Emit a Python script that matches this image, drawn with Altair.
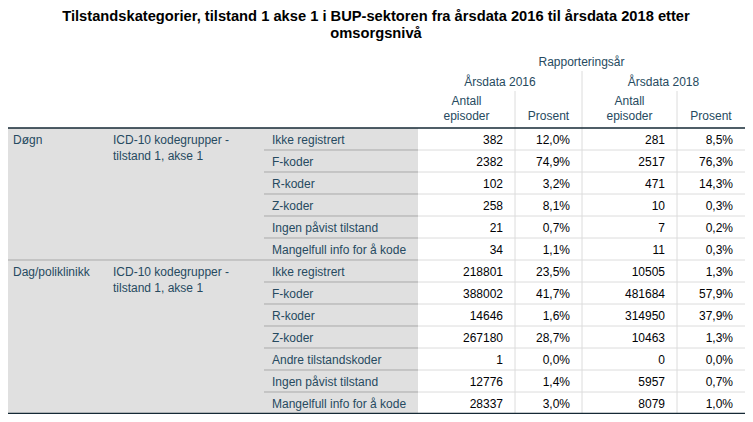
import altair as alt
import pandas as pd

# ---------------- data ----------------
title_lines = [
    "Tilstandskategorier, tilstand 1 akse 1 i BUP-sektoren fra årsdata 2016 til årsdata 2018 etter",
    "omsorgsnivå",
]
spanner = "Rapporteringsår"
years = ["Årsdata 2016", "Årsdata 2018"]
antall_label = ["Antall", "episoder"]
prosent_label = "Prosent"
groups = ["Døgn", "Dag/poliklinikk"]
variable_label = ["ICD-10 kodegrupper -", "tilstand 1, akse 1"]

cats_dogn = ["Ikke registrert", "F-koder", "R-koder", "Z-koder",
             "Ingen påvist tilstand", "Mangelfull info for å kode"]
cats_dag = ["Ikke registrert", "F-koder", "R-koder", "Z-koder",
            "Andre tilstandskoder", "Ingen påvist tilstand", "Mangelfull info for å kode"]

antall_2016_dogn = [382, 2382, 102, 258, 21, 34]
prosent_2016_dogn = [12.0, 74.9, 3.2, 8.1, 0.7, 1.1]
antall_2018_dogn = [281, 2517, 471, 10, 7, 11]
prosent_2018_dogn = [8.5, 76.3, 14.3, 0.3, 0.2, 0.3]

antall_2016_dag = [218801, 388002, 14646, 267180, 1, 12776, 28337]
prosent_2016_dag = [23.5, 41.7, 1.6, 28.7, 0.0, 1.4, 3.0]
antall_2018_dag = [10505, 481684, 314950, 10463, 0, 5957, 8079]
prosent_2018_dag = [1.3, 57.9, 37.9, 1.3, 0.0, 0.7, 1.0]

# ---------------- layout (page pixel units) ----------------
W, H = 737, 406
OFF = 8
LEFT, RIGHT = 8, 745
GRAY_R = 418
COLS = [418, 515, 582, 677, 745]
HEAD_BOTTOM = 128
ROW_H = 22
LAB_C1, LAB_C2, LAB_C3, SEP_X = 13, 113, 272, 264
PAD_R = 12

LABEL_COL = "#264a60"
NUM_COL = "#010205"
FONT = "Liberation Sans"

xs = alt.Scale(domain=[OFF, OFF + W], range=[0, W])
ys = alt.Scale(domain=[OFF, OFF + H], range=[0, H])


def fmt_pct(v):
    return f"{v:.1f}".replace(".", ",") + "%"


title_rows, head_rows, lab_rows, num_rows, rules, rects = [], [], [], [], [], []

for i, t in enumerate(title_lines):
    title_rows.append({"x": 376, "y": 17 + 17 * i, "t": t})

head_rows.append({"x": (COLS[0] + COLS[4]) / 2, "y": 62, "t": spanner})
for k, yr in enumerate(years):
    c0, c1, c2 = COLS[2 * k], COLS[2 * k + 1], COLS[2 * k + 2]
    head_rows.append({"x": (c0 + c2) / 2, "y": 82, "t": yr})
    head_rows.append({"x": (c0 + c1) / 2, "y": 101, "t": antall_label[0]})
    head_rows.append({"x": (c0 + c1) / 2, "y": 116, "t": antall_label[1]})
    head_rows.append({"x": (c1 + c2) / 2, "y": 116, "t": prosent_label})

blocks = [
    (groups[0], cats_dogn, antall_2016_dogn, prosent_2016_dogn, antall_2018_dogn, prosent_2018_dogn),
    (groups[1], cats_dag, antall_2016_dag, prosent_2016_dag, antall_2018_dag, prosent_2018_dag),
]

y0 = HEAD_BOTTOM
rects.append({"x": LEFT, "x2": GRAY_R, "y": HEAD_BOTTOM,
              "y2": HEAD_BOTTOM + ROW_H * (len(cats_dogn) + len(cats_dag))})
for b, (g, cats, a16, p16, a18, p18) in enumerate(blocks):
    top = y0
    lab_rows.append({"x": LAB_C1, "y": top + 11.5, "t": g})
    for j, line in enumerate(variable_label):
        lab_rows.append({"x": LAB_C2, "y": top + 11.5 + 16 * j, "t": line})
    for i, c in enumerate(cats):
        yc = top + ROW_H * i + 11.5
        lab_rows.append({"x": LAB_C3, "y": yc, "t": c})
        vals = [str(a16[i]), fmt_pct(p16[i]), str(a18[i]), fmt_pct(p18[i])]
        for k, v in enumerate(vals):
            num_rows.append({"x": COLS[k + 1] - PAD_R, "y": yc, "t": v})
        if i > 0:
            yl = top + ROW_H * i
            rules.append({"x": SEP_X, "x2": GRAY_R, "y": yl, "y2": yl, "c": "#a9a9a9", "w": 1})
            rules.append({"x": GRAY_R, "x2": RIGHT, "y": yl, "y2": yl, "c": "#dcdcdc", "w": 1})
    y0 = top + ROW_H * len(cats)
    if b == 0:
        rules.append({"x": LEFT, "x2": GRAY_R, "y": y0, "y2": y0, "c": "#a9a9a9", "w": 1})
        rules.append({"x": GRAY_R, "x2": RIGHT, "y": y0, "y2": y0, "c": "#dcdcdc", "w": 1})

bottom = y0
# vertical lines
rules.append({"x": COLS[2], "x2": COLS[2], "y": 71, "y2": bottom, "c": "#dcdcdc", "w": 1})
rules.append({"x": COLS[1], "x2": COLS[1], "y": 91, "y2": bottom, "c": "#dcdcdc", "w": 1})
rules.append({"x": COLS[3], "x2": COLS[3], "y": 91, "y2": bottom, "c": "#dcdcdc", "w": 1})
# header bottom and table bottom
rules.append({"x": LEFT, "x2": RIGHT, "y": HEAD_BOTTOM, "y2": HEAD_BOTTOM, "c": "#152935", "w": 1.5})
rules.append({"x": LEFT, "x2": RIGHT, "y": bottom - 0.5, "y2": bottom - 0.5, "c": "#152935", "w": 1.5})

enc_xy = dict(x=alt.X("x:Q", scale=xs, axis=None), y=alt.Y("y:Q", scale=ys, axis=None))

bg = alt.Chart(pd.DataFrame(rects)).mark_rect(color="#e0e0e0").encode(
    x=alt.X("x:Q", scale=xs, axis=None), x2="x2:Q",
    y=alt.Y("y:Q", scale=ys, axis=None), y2="y2:Q")

lines = alt.Chart(pd.DataFrame(rules)).mark_rule().encode(
    x=alt.X("x:Q", scale=xs, axis=None), x2="x2:Q",
    y=alt.Y("y:Q", scale=ys, axis=None), y2="y2:Q",
    color=alt.Color("c:N", scale=None),
    strokeWidth=alt.StrokeWidth("w:Q", scale=None))

title = alt.Chart(pd.DataFrame(title_rows)).mark_text(
    font=FONT, fontSize=14.7, fontWeight="bold", color="#000000",
    align="center", baseline="middle").encode(text="t:N", **enc_xy)

head = alt.Chart(pd.DataFrame(head_rows)).mark_text(
    font=FONT, fontSize=12, color=LABEL_COL,
    align="center", baseline="middle").encode(text="t:N", **enc_xy)

labs = alt.Chart(pd.DataFrame(lab_rows)).mark_text(
    font=FONT, fontSize=12, color=LABEL_COL,
    align="left", baseline="middle").encode(text="t:N", **enc_xy)

nums = alt.Chart(pd.DataFrame(num_rows)).mark_text(
    font=FONT, fontSize=12, color=NUM_COL,
    align="right", baseline="middle").encode(text="t:N", **enc_xy)

chart = alt.layer(bg, lines, title, head, labs, nums).properties(
    width=W, height=H, padding=0, autosize=alt.AutoSizeParams(type="none")
).configure_view(stroke=None)

chart.save("out.html", embed_options={"renderer": "svg", "actions": False})
